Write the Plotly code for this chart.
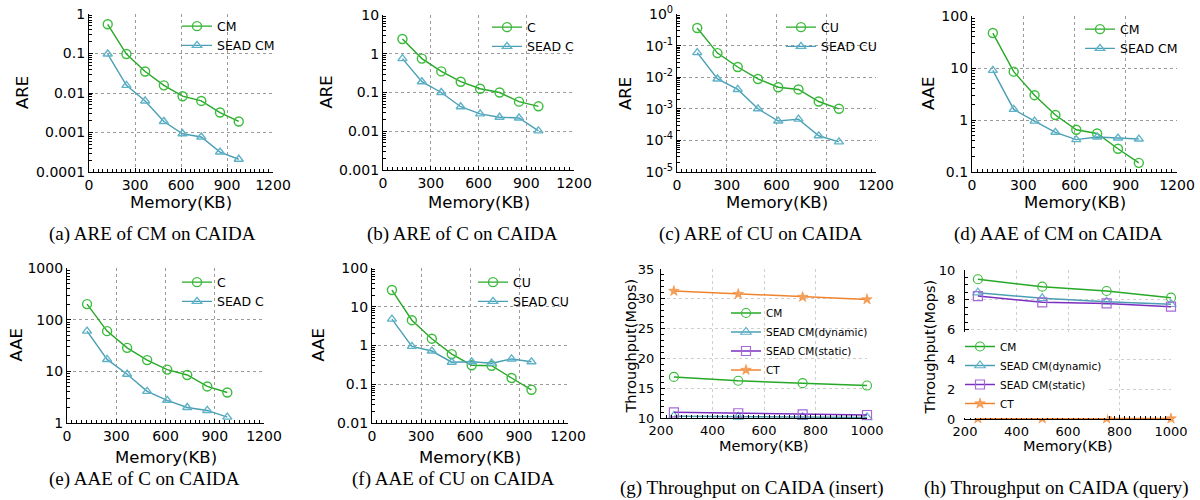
import plotly.graph_objects as go

# ---------------- data ----------------
mem = [122.07, 244.14, 366.21, 488.28, 610.35, 732.42, 854.49, 976.56]

are_cm = [0.55, 0.097, 0.035, 0.0156, 0.0083, 0.0063, 0.0032, 0.0019]
are_sead_cm = [0.097, 0.0156, 0.0063, 0.0019, 0.00093, 0.00077, 0.00032, 0.00021]
are_c = [2.4, 0.75, 0.35, 0.19, 0.125, 0.1, 0.058, 0.044]
are_sead_c = [0.75, 0.19, 0.1, 0.043, 0.028, 0.023, 0.022, 0.0102]
are_cu = [0.36, 0.058, 0.021, 0.0088, 0.0048, 0.0041, 0.0017, 0.001]
are_sead_cu = [0.06, 0.0088, 0.0041, 0.001, 0.00041, 0.00047, 0.00014, 0.00009]
aae_cm = [47, 8.5, 3.0, 1.25, 0.65, 0.55, 0.28, 0.15]
aae_sead_cm = [9, 1.6, 0.95, 0.58, 0.42, 0.47, 0.45, 0.43]
aae_c = [200, 60, 28.5, 16.5, 10.8, 8.5, 5.1, 3.9]
aae_sead_c = [60, 17, 8.8, 4.1, 2.75, 2.0, 1.75, 1.3]
aae_cu = [27, 4.5, 1.5, 0.6, 0.31, 0.3, 0.145, 0.072]
aae_sead_cu = [4.8, 0.95, 0.72, 0.37, 0.38, 0.35, 0.45, 0.38]

thr_mem = [250, 500, 750, 1000]
ins_cm = [16.9, 16.25, 15.85, 15.45]
ins_dyn = [10.3, 10.2, 10.15, 10.1]
ins_static = [10.95, 10.8, 10.6, 10.5]
ins_ct = [31.3, 30.8, 30.3, 29.9]
qry_cm = [9.38, 8.88, 8.59, 8.14]
qry_dyn = [8.48, 8.1, 7.87, 7.7]
qry_static = [8.25, 7.83, 7.76, 7.54]
qry_ct = [0.03, 0.03, 0.03, 0.03]

mem_ticks = [0, 300, 600, 900, 1200]
thr_ticks = [200, 400, 600, 800, 1000]

captions = ["(a) ARE of CM on CAIDA", "(b) ARE of C on CAIDA", "(c) ARE of CU on CAIDA",
            "(d) AAE of CM on CAIDA", "(e) AAE of C on CAIDA", "(f) AAE of CU on CAIDA",
            "(g) Throughput on CAIDA (insert)", "(h) Throughput on CAIDA (query)"]

# ---------------- style ----------------
W, H = 1200, 500
GREEN = "#27a827"
GREEN_M = "#3cbc3c"
TEAL = "#4a9fb5"
TEAL_M = "#5fb3c8"
PURPLE = "#7a2fbf"
PURPLE_M = "#a56ad8"
ORANGE = "#f0842e"
ORANGE_M = "#f5a05a"
SANS = "DejaVu Sans"
SERIF = "Liberation Serif"

# panel boxes in pixels: x0, x1, y0(top), y1(bottom)
boxes = [
    (89, 273, 14, 172),
    (383, 574, 15, 170),
    (677, 876, 14, 172),
    (972, 1177, 16, 172),
    (67, 264, 268, 423),
    (372, 568, 268, 423),
    (661, 867, 269, 418),
    (965, 1171, 270, 419),
]

fig = go.Figure()


def sup(e):
    return "10<sup>%d</sup>" % e


log_specs = [
    ([-4, 0], [0.0001, 0.001, 0.01, 0.1, 1], ["0.0001", "0.001", "0.01", "0.1", "1"]),
    ([-3, 1], [0.001, 0.01, 0.1, 1, 10], ["0.001", "0.01", "0.1", "1", "10"]),
    ([-5, 0], [1e-5, 1e-4, 1e-3, 1e-2, 1e-1, 1], [sup(-5), sup(-4), sup(-3), sup(-2), sup(-1), sup(0)]),
    ([-1, 2], [0.1, 1, 10, 100], ["0.1", "1", "10", "100"]),
    ([0, 3], [1, 10, 100, 1000], ["1", "10", "100", "1000"]),
    ([-2, 2], [0.01, 0.1, 1, 10, 100], ["0.01", "0.1", "1", "10", "100"]),
]

series_err = [
    (("CM", are_cm), ("SEAD CM", are_sead_cm)),
    (("C", are_c), ("SEAD C", are_sead_c)),
    (("CU", are_cu), ("SEAD CU", are_sead_cu)),
    (("CM", aae_cm), ("SEAD CM", aae_sead_cm)),
    (("C", aae_c), ("SEAD C", aae_sead_c)),
    (("CU", aae_cu), ("SEAD CU", aae_sead_cu)),
]
ytitles = ["ARE", "ARE", "ARE", "AAE", "AAE", "AAE", "Throughput(Mops)", "Throughput(Mops)"]
# legend left / top in pixels
legend_pos = [(177, 11.5), (487, 12.5), (781, 12.5), (1080, 14.5), (177, 267.5), (473, 267.5), (726, 298.5), (960, 332)]
legend_bg = ["rgba(0,0,0,0)"] * 7 + ["white"]

layout = {}
for i, (x0, x1, y0, y1) in enumerate(boxes):
    n = i + 1
    xa = "xaxis" if n == 1 else "xaxis%d" % n
    ya = "yaxis" if n == 1 else "yaxis%d" % n
    xref = "x" if n == 1 else "x%d" % n
    yref = "y" if n == 1 else "y%d" % n
    leg = "legend" if n == 1 else "legend%d" % n
    common = dict(
        showline=True, linecolor="black", linewidth=1.2,
        ticks="inside", ticklen=4, tickcolor="black", tickwidth=1,
        showgrid=True, griddash="dot", zeroline=False,
        tickfont=dict(family=SANS, size=14, color="black"),
    )
    if i < 6:
        common["gridcolor"] = "#9a9a9a"
        xcfg = dict(common, domain=[x0 / W, x1 / W], anchor=yref, range=[0, 1200],
                    tickvals=mem_ticks, minor=dict(ticks="inside", ticklen=3, dtick=30, tickcolor="black", showgrid=False))
        rng, tv, tt = log_specs[i]
        ycfg = dict(common, domain=[1 - y1 / H, 1 - y0 / H], anchor=xref, type="log", range=rng,
                    tickvals=tv, ticktext=tt, minor=dict(ticks="inside", ticklen=3, dtick="D1", tickcolor="black", showgrid=False))
        (n1, d1), (n2, d2) = series_err[i]
        fig.add_trace(go.Scatter(x=mem, y=d1, name=n1, mode="lines+markers", xaxis=xref, yaxis=yref, legend=leg,
                                 line=dict(color=GREEN, width=1.4),
                                 marker=dict(symbol="circle-open", size=9, color=GREEN_M, line=dict(width=1.4))))
        fig.add_trace(go.Scatter(x=mem, y=d2, name=n2, mode="lines+markers", xaxis=xref, yaxis=yref, legend=leg,
                                 line=dict(color=TEAL, width=1.4),
                                 marker=dict(symbol="triangle-up-open", size=8, color=TEAL_M, line=dict(width=1.4))))
        legfont = dict(family=SANS, size=12.5, color="black")
    else:
        common["gridcolor"] = "#cfcfcf"
        common["tickfont"] = dict(family=SANS, size=13, color="black")
        xcfg = dict(common, domain=[x0 / W, x1 / W], anchor=yref, range=[200, 1000],
                    tickvals=thr_ticks, minor=dict(ticks="inside", ticklen=3, dtick=20, tickcolor="black", showgrid=False))
        if i == 6:
            ycfg = dict(common, domain=[1 - y1 / H, 1 - y0 / H], anchor=xref, range=[10, 35], dtick=5,
                        ticklabelstandoff=3,
                        minor=dict(ticks="inside", ticklen=3, dtick=1, tickcolor="black", showgrid=False))
            ds = [ins_cm, ins_dyn, ins_static, ins_ct]
        else:
            ycfg = dict(common, domain=[1 - y1 / H, 1 - y0 / H], anchor=xref, range=[0, 10], dtick=2,
                        ticklabelstandoff=6,
                        minor=dict(ticks="inside", ticklen=3, dtick=0.5, tickcolor="black", showgrid=False))
            ds = [qry_cm, qry_dyn, qry_static, qry_ct]
        names = ["CM", "SEAD CM(dynamic)", "SEAD CM(static)", "CT"]
        lcols = [GREEN, TEAL, PURPLE, ORANGE]
        mcols = [GREEN_M, TEAL_M, PURPLE_M, ORANGE_M]
        syms = ["circle-open", "triangle-up-open", "square-open", "star"]
        for nm, d, lc, mc, sy in zip(names, ds, lcols, mcols, syms):
            mk = dict(symbol=sy, size=9, color=mc, line=dict(width=1.2, color=mc))
            if sy == "star":
                mk = dict(symbol=sy, size=8, color=mc, line=dict(width=0.5, color=lc))
            fig.add_trace(go.Scatter(x=thr_mem, y=d, name=nm, mode="lines+markers", xaxis=xref, yaxis=yref,
                                     legend=leg, cliponaxis=False,
                                     line=dict(color=lc, width=1.5), marker=mk))
        legfont = dict(family=SANS, size=10.5, color="black")
    layout[xa] = xcfg
    layout[ya] = ycfg
    lx, ly = legend_pos[i]
    layout[leg] = dict(x=lx / W, y=1 - ly / H, xanchor="left", yanchor="top", bgcolor=legend_bg[i],
                       borderwidth=0, font=legfont, tracegroupgap=0, itemwidth=30)

# axis titles and captions
annotations = []
xt_y = [202, 202, 202, 202, 457, 457, 446, 446]
yt_x = [23, 326, 626, 929, 16, 318, 630, 929]
cap_pos = [(152, 234), (463, 234), (760, 234), (1058, 234), (144, 479), (453, 479), (752, 488), (1056, 488)]
for i, (x0, x1, y0, y1) in enumerate(boxes):
    fs = 16.5 if i < 6 else 14.5
    annotations.append(dict(text="Memory(KB)", x=(x0 + x1) / 2 / W, y=1 - xt_y[i] / H, xref="paper", yref="paper",
                            showarrow=False, xanchor="center", yanchor="middle",
                            font=dict(family=SANS, size=fs, color="black")))
    annotations.append(dict(text=ytitles[i], x=yt_x[i] / W, y=1 - ((y0 + y1) / 2 + (3 if i >= 6 else 0)) / H,
                            xref="paper", yref="paper", textangle=-90,
                            showarrow=False, xanchor="center", yanchor="middle",
                            font=dict(family=SANS, size=fs, color="black")))
    cx, cy = cap_pos[i]
    annotations.append(dict(text=captions[i], x=cx / W, y=1 - cy / H, xref="paper", yref="paper",
                            showarrow=False, xanchor="center", yanchor="middle",
                            font=dict(family=SERIF, size=19, color="black")))

fig.update_layout(
    width=W, height=H, margin=dict(l=0, r=0, t=0, b=0, autoexpand=False),
    paper_bgcolor="white", plot_bgcolor="white",
    annotations=annotations, **layout,
)
fig.write_html("out.html", config={"displayModeBar": False},
               post_script="document.body.style.margin='0px';document.body.style.overflow='hidden';")
